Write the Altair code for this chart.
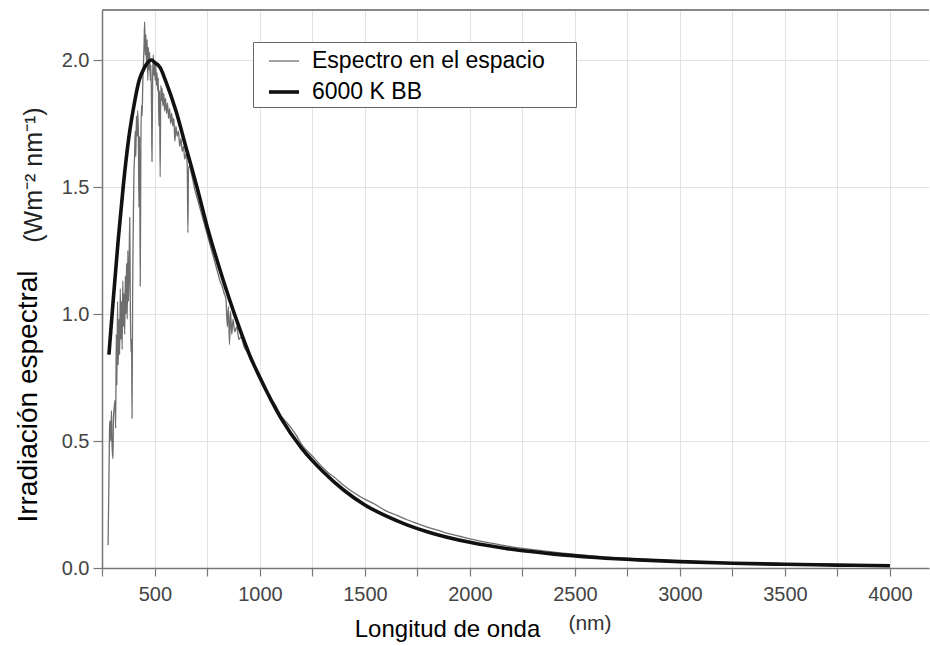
import altair as alt
import pandas as pd

# ---- data ----
series_names = ["Espectro en el espacio", "6000 K BB"]

spectrum_nm = [277, 281, 284, 286, 290, 293, 296, 300, 303, 306, 310, 313, 316, 319, 322, 325,
               329, 332, 335, 338, 341, 344, 347, 350, 353, 356, 359, 362, 365, 368, 371, 374,
               377, 380, 383, 386, 389, 391, 394, 397, 400, 403, 406, 409, 412, 415, 418, 421,
               424, 427, 430, 433, 436, 439, 442, 445, 448, 451, 454, 457, 460, 463, 466, 469,
               472, 475, 478, 481, 484, 486, 489, 492, 495, 498, 501, 504, 507, 510, 513, 516,
               519, 522, 525, 528, 531, 534, 538, 542, 546, 550, 555, 560, 565, 570, 575, 580,
               585, 590, 595, 600, 606, 612, 618, 624, 630, 636, 642, 648, 654, 657, 660, 666,
               672, 680, 690, 700, 710, 720, 730, 740, 750, 760, 770, 780, 790, 800, 810, 820,
               830, 838, 845, 850, 855, 860, 866, 872, 880, 890, 900, 910, 925, 940, 960, 980,
               1000, 1025, 1050, 1075, 1100, 1125, 1150, 1175, 1200, 1250, 1300, 1325, 1350,
               1400, 1450, 1500, 1550, 1600, 1650, 1700, 1750, 1800, 1850, 1900, 1950, 2000,
               2100, 2200, 2300, 2400, 2500, 2600, 2800, 3000, 3200, 3400, 3600, 3800, 4000]
spectrum_val = [0.09, 0.35, 0.55, 0.58, 0.50, 0.62, 0.48, 0.43, 0.60, 0.63, 0.66, 0.55, 0.92, 0.72, 1.05, 0.80,
                0.98, 0.84, 1.10, 0.90, 1.05, 0.86, 1.13, 0.95, 1.08, 0.92, 1.15, 1.00, 1.20, 0.98, 1.25, 1.05,
                1.18, 1.38, 1.02, 0.85, 0.90, 0.59, 1.10, 1.35, 1.55, 1.62, 1.72, 1.62, 1.78, 1.70, 1.80, 1.72,
                1.42, 1.70, 1.11, 1.65, 1.82, 1.78, 1.90, 1.98, 2.05, 2.15, 2.02, 2.10, 1.98, 2.08, 1.92, 2.05,
                1.96, 2.03, 1.92, 1.98, 1.80, 1.60, 1.92, 2.02, 1.94, 2.00, 1.92, 1.98, 1.90, 1.95, 1.88, 1.93,
                1.74, 1.88, 1.54, 1.90, 1.84, 1.89, 1.82, 1.87, 1.80, 1.85, 1.79, 1.83, 1.77, 1.81, 1.75, 1.79,
                1.74, 1.77, 1.68, 1.74, 1.70, 1.72, 1.66, 1.69, 1.64, 1.66, 1.61, 1.63, 1.58, 1.32, 1.58, 1.58,
                1.56, 1.53, 1.49, 1.46, 1.43, 1.40, 1.37, 1.34, 1.31, 1.28, 1.25, 1.22, 1.19, 1.16, 1.13, 1.11,
                1.08, 1.06, 0.95, 1.03, 0.88, 1.01, 0.92, 0.98, 0.93, 0.95, 0.90, 0.91, 0.87, 0.85, 0.81, 0.78,
                0.74, 0.70, 0.67, 0.64, 0.60, 0.575, 0.55, 0.52, 0.485, 0.44, 0.395, 0.375, 0.36,
                0.325, 0.295, 0.27, 0.25, 0.225, 0.208, 0.19, 0.175, 0.16, 0.148, 0.135, 0.125, 0.115,
                0.098, 0.083, 0.072, 0.062, 0.054, 0.047, 0.036, 0.028, 0.022, 0.018, 0.015, 0.012, 0.010]

bb_nm = [281, 300, 325, 350, 375, 400, 425, 450, 465, 483, 500, 525, 550, 600, 650, 700, 750, 800,
         850, 900, 950, 1000, 1100, 1200, 1300, 1400, 1500, 1600, 1700, 1800, 2000, 2200, 2400, 2600,
         2800, 3000, 3250, 3500, 3750, 4000]
bb_val = [0.84, 1.04, 1.29, 1.51, 1.69, 1.82, 1.92, 1.97, 1.99, 2.00, 1.99, 1.97, 1.92, 1.80, 1.65, 1.50,
          1.34, 1.20, 1.07, 0.95, 0.84, 0.75, 0.59, 0.47, 0.38, 0.306, 0.248, 0.205, 0.170, 0.142, 0.101,
          0.0735, 0.0547, 0.0416, 0.032, 0.0252, 0.0189, 0.0145, 0.0113, 0.0089]

x_ticks = list(range(250, 4001, 250))
y_ticks = [0.0, 0.5, 1.0, 1.5, 2.0]
y_units = ["(Wm\u207b\u00b2 nm\u207b\u00b9)"]
x_units = ["(nm)"]

FONT = "Liberation Sans"
W, H = 827, 558
LEG_SPACER = "MM"   # invisible legend title used only to widen the legend box

df = pd.concat([
    pd.DataFrame({"nm": spectrum_nm, "val": spectrum_val, "series": series_names[0], "order": 0}),
    pd.DataFrame({"nm": bb_nm, "val": bb_val, "series": series_names[1], "order": 1}),
])

x_scale = alt.Scale(domain=[248, 4186], nice=False, zero=False)
y_scale = alt.Scale(domain=[0, 2.197], nice=False)

lines = alt.Chart(df).mark_line(interpolate="monotone", strokeJoin="round").encode(
    x=alt.X("nm:Q", scale=x_scale,
            axis=alt.Axis(values=x_ticks, title="Longitud de onda",
                          labelExpr="datum.value % 500 == 0 ? datum.label : ''",
                          format="d", titleX=345, titleY=61, titleAlign="center",
                          titleBaseline="middle", titleFontSize=24, titleFontWeight="normal",
                          titleColor="#000", labelPadding=8, tickSize=8, labelFontSize=20)),
    y=alt.Y("val:Q", scale=y_scale,
            axis=alt.Axis(values=y_ticks, format=".1f", title="Irradiación espectral",
                          titleAngle=270, titleX=-74, titleY=386, titleAlign="center",
                          titleBaseline="middle", titleFontSize=28, titleFontWeight="normal",
                          titleColor="#000", labelPadding=4, tickSize=9, labelFontSize=20)),
    color=alt.Color("series:N", scale=alt.Scale(domain=series_names, range=["#6e6e6e", "#111111"]),
                    legend=alt.Legend(title=LEG_SPACER)),
    strokeWidth=alt.StrokeWidth("series:N", scale=alt.Scale(domain=series_names, range=[1.3, 3.6]),
                                legend=alt.Legend(title=LEG_SPACER)),
    order=alt.Order("order:Q"),
    detail="series:N",
)

top_border = alt.Chart(pd.DataFrame({"a": [0]})).mark_rule(color="#888888", strokeWidth=2).encode(
    x=alt.value(0), x2=alt.value(W), y=alt.value(0)
)

yunit = alt.Chart(pd.DataFrame({"t": y_units})).mark_text(
    angle=270, fontSize=25, font=FONT, color="#222", align="center", baseline="middle"
).encode(text="t:N", x=alt.value(-68), y=alt.value(165))

xunit = alt.Chart(pd.DataFrame({"t": x_units})).mark_text(
    fontSize=21, font=FONT, color="#333", align="center", baseline="middle"
).encode(text="t:N", x=alt.value(488), y=alt.value(614))

chart = alt.layer(lines, top_border, yunit, xunit).properties(
    width=W, height=H,
    padding={"left": 102, "top": 10, "right": 1, "bottom": 78},
    autosize=alt.AutoSizeParams(type="none"),
).configure(font=FONT).configure_view(stroke=None).configure_axis(
    domainColor="#777777", domainWidth=1.5, tickColor="#777777", tickWidth=1.2,
    labelColor="#444444", labelFont=FONT, titleFont=FONT,
    gridColor="#e2e2e2", gridWidth=1,
).configure_legend(
    orient="none", legendX=151, legendY=32, padding=3, strokeColor="#666666", fillColor="white",
    symbolSize=900, symbolType="stroke", symbolOffset=11, labelFontSize=23, labelFont=FONT,
    labelColor="#000", labelOffset=11, rowPadding=2, labelLimit=400,
    titleOrient="right", titleOpacity=0, titleFontSize=14, titlePadding=4,
)

chart.save("out.html", embed_options={"renderer": "svg", "actions": False})
